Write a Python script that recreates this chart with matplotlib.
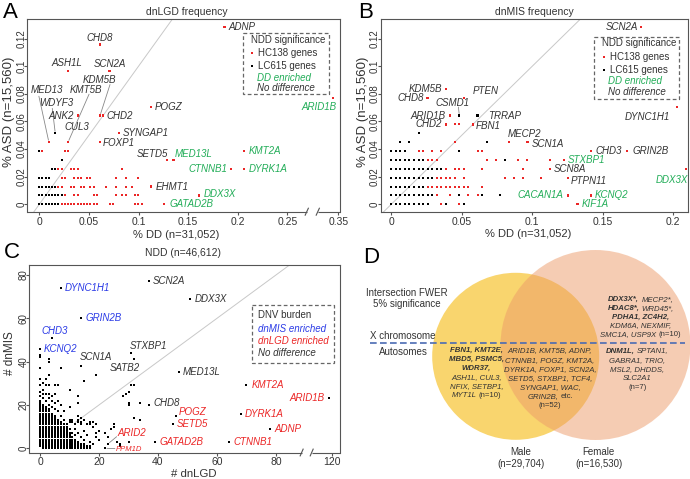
"""De novo variant frequency panels (dnLGD / dnMIS / NDD burden) and sex Venn"""
import matplotlib
matplotlib.use("Agg")
import matplotlib.pyplot as plt
from matplotlib.patches import Circle, Rectangle

plt.rcParams["font.family"] = ["Liberation Sans", "DejaVu Sans"]

FIG_W = 690
FIG_H = 479
PT = 0.72  # points per pixel at 100 dpi

RED = "#EB2626"
GREEN = "#22AD58"
BLUE = "#2B3BE6"
TEXT = "#333333"
FRAME = "#555555"
DIAG = "#C8C8C8"
DOT_SIZE = 2.6

N_ASD = 15560
N_DD = 31052

# ---------------- panel A : dnLGD frequency ----------------
# unlabeled genes: DD carrier counts, one list per ASD carrier count (0, 1, 2, ...)
a_red_rows = [
    [7, 8, 9, 10, 11, 12, 13, 14, 15, 16, 17, 18, 22, 23, 30, 31, 32],
    [8, 11, 12, 17, 18, 24, 26, 27, 30, 31],
    [6, 7, 10, 11, 13, 14, 16, 17, 21, 24, 27, 29],
    [7, 8, 11, 12, 13, 15, 16, 24, 27, 31],
    [6, 7, 10, 11, 12, 26],
    [],
    [1, 8, 9],
]
a_black_rows = [
    [0, 1, 2, 3, 4, 5, 6],
    [0, 1, 2, 3, 4, 5, 6, 7],
    [0, 1, 2, 3, 4, 5, 6],
    [0, 1, 2, 3, 12],
    [4, 5],
    [7],
    [0],
]
a_genes = ["ADNP", "CHD8", "ASH1L", "SCN2A", "KDM5B", "CHD2", "ANK2", "MED13",
           "WDYF3", "CUL3", "KMT5B", "POGZ", "SYNGAP1", "FOXP1", "SETD5",
           "MED13L", "KMT2A", "CTNNB1", "DYRK1A", "EHMT1", "DDX3X", "GATAD2B",
           "ARID1B"]
a_gene_dd = [58, 19, 9, 22, 19, 20, 12, 3, 5, 9, 9, 35, 25, 19, 40, 42, 64,
             60, 64, 35, 50, 39, 107]
a_gene_asd = [20, 18, 15, 15, 10, 10, 10, 7, 8, 7, 7, 11, 8, 7, 5, 5, 6, 4, 4,
              2, 1, 0, 12]
a_lc_genes = ["WDYF3"]
a_dd_enriched = ["ARID1B", "MED13L", "KMT2A", "CTNNB1", "DYRK1A", "DDX3X",
                 "GATAD2B"]

# ---------------- panel B : dnMIS frequency ----------------
b_red_rows = [
    [11, 15],
    [10, 13, 17, 19],
    [8, 9, 10, 11, 12, 13, 14, 15, 16, 17, 20],
    [10, 11, 12, 13, 14, 16, 25, 27, 29, 33],
    [12, 14, 15, 16, 20, 29],
    [8, 9, 10, 21, 23, 28, 30, 35],
    [6, 7, 9, 11, 19, 20],
    [14],
    [],
    [14, 15],
]
b_black_rows = [
    [0, 1, 2, 3, 4, 5, 6, 7, 8, 12, 16],
    [0, 1, 2, 3, 4, 5, 6, 7, 8, 9, 15, 20, 24],
    [0, 1, 2, 3, 4, 5, 6, 7],
    [0, 1, 2, 3, 4, 5, 6, 7, 8, 9],
    [0, 1, 2, 3, 4, 5, 6, 7, 8, 9, 10, 11],
    [0, 1, 2, 3, 4, 5, 6, 7, 25],
    [0, 1, 2, 3, 15],
    [2, 4, 21],
    [6],
]
b_genes = ["SCN2A", "KDM5B", "CHD8", "PTEN", "CSMD1", "ARID1B", "TRRAP",
           "CHD2", "FBN1", "MECP2", "SCN1A", "DYNC1H1", "CHD3", "GRIN2B",
           "STXBP1", "SCN8A", "DDX3X", "PTPN11", "CACAN1A", "KCNQ2", "KIF1A"]
b_gene_dd = [55, 12, 8, 16, 15, 13, 19, 12, 18, 26, 30, 63, 44, 52, 38, 35,
             65, 39, 39, 44, 41]
b_gene_asd = [20, 13, 12, 12, 10, 10, 10, 9, 9, 7, 7, 11, 6, 6, 5, 4, 4, 3,
              1, 1, 0]
b_lc_genes = ["CSMD1", "TRRAP"]
b_dd_enriched = ["STXBP1", "DDX3X", "CACAN1A", "KCNQ2", "KIF1A"]

# ---------------- panel C : NDD burden counts ----------------
# dense block: highest dnMIS count filled in each dnLGD column 0..17
c_column_top = [22, 20, 19, 18, 16, 15, 13, 12, 11, 9, 7, 5, 4, 3, 2, 2, 1, 1]
c_scatter = [
    (0, 43), (0, 42), (0, 37), (0, 32), (0, 29), (0, 26), (0, 24),
    (1, 30), (1, 27), (1, 25), (1, 23), (2, 32), (2, 29), (2, 25), (2, 22),
    (3, 41), (3, 40), (3, 34), (3, 29), (3, 25), (3, 23), (3, 20),
    (4, 24), (4, 22), (4, 19), (5, 29), (5, 25), (5, 21), (5, 18),
    (6, 29), (6, 22), (6, 17), (7, 37), (7, 20), (7, 15), (8, 17), (8, 13),
    (9, 11), (9, 10), (10, 27), (10, 19), (10, 13), (10, 12), (10, 9),
    (11, 13), (11, 12), (11, 7), (12, 11), (12, 9), (12, 6),
    (13, 24), (13, 21), (13, 15), (13, 13), (13, 12), (13, 7),
    (14, 14), (14, 12), (14, 11), (14, 5), (15, 31), (15, 13), (15, 8),
    (15, 4), (16, 11), (16, 6), (17, 12), (17, 11), (17, 3),
    (18, 12), (18, 10), (18, 2), (19, 34), (19, 11), (19, 7), (19, 5),
    (20, 4), (20, 8), (22, 7), (23, 5), (24, 9), (25, 11), (25, 10),
    (26, 3), (27, 2), (27, 1), (28, 24), (29, 25), (30, 26), (31, 29),
    (30, 21), (30, 20), (32, 29), (32, 14), (34, 13), (34, 21), (30, 3),
]
c_genes = ["SCN2A", "DDX3X", "DYNC1H1", "GRIN2B", "CHD3", "KCNQ2", "STXBP1",
           "SATB2", "SCN1A", "MED13L", "KMT2A", "ARID1B", "CHD8", "POGZ",
           "DYRK1A", "SETD5", "ADNP", "ARID2", "PPM1D", "GATAD2B", "CTNNB1"]
c_gene_lgd = [37, 51, 7, 14, 4, 0, 31, 32, 14, 47, 70, 119, 37, 46, 68, 45,
              78, 23, 22, 39, 64]
c_gene_mis = [77, 69, 74, 60, 51, 46, 44, 41, 38, 35, 29, 23, 20, 15, 16, 11,
              9, 2, 0, 3, 3]
c_mis_enriched = ["DYNC1H1", "GRIN2B", "CHD3", "KCNQ2"]
c_lgd_enriched = ["KMT2A", "ARID1B", "POGZ", "DYRK1A", "SETD5", "ADNP",
                  "ARID2", "PPM1D", "GATAD2B", "CTNNB1"]

# ---------------- panel D : Venn of sex-specific FWER genes ----------------
d_male_lines = [
    [("FBN1, KMT2E,", "bold")],
    [("MBD5, PSMC5,", "bold")],
    [("WDR37,", "bold")],
    [("ASH1L, CUL3,", "it")],
    [("NFIX, SETBP1,", "it")],
    [("MYT1L", "it"), ("(n=10)", "plain")],
]
d_shared_lines = [
    [("ARID1B, KMT5B, ADNP,", "it")],
    [("CTNNB1, POGZ, KMT2A,", "it")],
    [("DYRK1A, FOXP1, SCN2A,", "it")],
    [("SETD5, STXBP1, TCF4,", "it")],
    [("SYNGAP1, WAC,", "it")],
    [("GRIN2B,", "it"), ("etc.", "plain")],
    [("(n=52)", "plain")],
]
d_female_x_lines = [
    [("DDX3X*,", "bold"), ("MECP2*,", "it")],
    [("HDAC8*,", "bold"), ("WRD45*,", "it")],
    [("PDHA1, ZC4H2,", "bold")],
    [("KDM6A, NEXMIF,", "it")],
    [("SMC1A, USP9X", "it"), ("(n=10)", "plain")],
]
d_female_auto_lines = [
    [("DNM1L,", "bold"), ("SPTAN1,", "it")],
    [("GABRA1, TRIO,", "it")],
    [("MSL2, DHDDS,", "it")],
    [("SLC2A1", "it")],
    [("(n=7)", "plain")],
]
d_male_n = 29704
d_female_n = 16530

# label placement (pixels: dx right, dy up, alignment) and leader starts
a_label_pos = {
    "ADNP": (4, 0, "left"), "CHD8": (0, 7, "center"),
    "ASH1L": (-1.5, 8, "center"), "SCN2A": (0, 7, "center"),
    "KDM5B": (-1, 36, "center"), "KMT5B": (18, 52.5, "center"),
    "CHD2": (3.5, 0, "left"), "ANK2": (-4, 0, "right"),
    "MED13": (-2, 52, "center"), "WDYF3": (0.5, 30, "center"),
    "CUL3": (8.7, 15, "center"), "POGZ": (4, 0, "left"),
    "SYNGAP1": (4, 0, "left"), "FOXP1": (3, -1, "left"),
    "SETD5": (1, 6, "right"), "MED13L": (1, 6, "left"),
    "KMT2A": (5, 0, "left"), "CTNNB1": (-4, 0, "right"),
    "DYRK1A": (5, 0, "left"), "EHMT1": (5, 0, "left"),
    "DDX3X": (5, 1, "left"), "GATAD2B": (6, 0, "left"),
    "ARID1B": (3.5, -9.6, "right"),
}
a_leaders = {"KDM5B": (10, 31), "KMT5B": (21, 48), "MED13": (-10, 46),
             "WDYF3": (-3, 25)}
b_label_pos = {
    "SCN2A": (-3, 0, "right"), "KDM5B": (-4, 0, "right"),
    "CHD8": (-4, 0, "right"), "PTEN": (9, 7, "left"),
    "CSMD1": (-7, 12.7, "center"), "ARID1B": (-4.5, 0, "right"),
    "TRRAP": (10.7, 0, "left"), "CHD2": (-4, 0, "right"),
    "FBN1": (2.5, -2, "left"), "MECP2": (15, 8.4, "center"),
    "SCN1A": (4, -1.5, "left"), "DYNC1H1": (-7.4, -10, "right"),
    "CHD3": (4, 0, "left"), "GRIN2B": (5, 0, "left"),
    "STXBP1": (4, 0, "left"), "SCN8A": (3.5, 0, "left"),
    "DDX3X": (2, -10.7, "right"), "PTPN11": (2.5, -3.3, "left"),
    "CACAN1A": (-5, 0, "right"), "KCNQ2": (4, 0, "left"),
    "KIF1A": (4, 0, "left"),
}
b_leaders = {"CSMD1": (-1, 8.5)}
c_label_pos = {
    "SCN2A": (4, 0, "left"), "DDX3X": (4, 0, "left"),
    "DYNC1H1": (4, 0, "left"), "GRIN2B": (4, 0, "left"),
    "CHD3": (3, 7, "center"), "KCNQ2": (4, 0, "left"),
    "STXBP1": (-1.5, 7, "left"), "SATB2": (5.6, -8.2, "right"),
    "SCN1A": (-2, 8.7, "left"), "MED13L": (4, 0, "left"),
    "KMT2A": (5, 0, "left"), "ARID1B": (-4, 0, "right"),
    "CHD8": (4, 1.7, "left"), "POGZ": (3, 4, "left"),
    "DYRK1A": (4, 0, "left"), "SETD5": (4, 0, "left"),
    "ADNP": (4, 0, "left"), "ARID2": (9.4, 10.7, "left"),
    "PPM1D": (10.8, -1.0, "left"), "GATAD2B": (4, 0, "left"),
    "CTNNB1": (5, 0, "left"),
}
c_leaders = {"ARID2": (8.8, 7.3), "PPM1D": (10, -0.3)}

A_SHIFT = 0.0485   # compressed x range beyond the axis break, panel A
C_SHIFT = 21.0     # same for panel C


def px_rect(left, top, right, bottom):
    """axes rectangle in figure fractions from pixel box"""
    return [left / FIG_W, 1 - bottom / FIG_H,
            (right - left) / FIG_W, (bottom - top) / FIG_H]


def style_axes(ax, xpad=1.5):
    for sp in ax.spines.values():
        sp.set_color(FRAME)
        sp.set_linewidth(0.8)
    ax.tick_params(direction="out", length=2.5, width=0.8, color=FRAME,
                   labelsize=7.5, labelcolor=TEXT)
    ax.tick_params(axis="x", pad=xpad)
    ax.tick_params(axis="y", pad=-2, labelsize=7)
    plt.setp(ax.get_yticklabels(), rotation=90, va="center")


def draw_x_break(ax, b0, b1, half_w):
    x_lo, x_hi = ax.get_xlim()
    ax.spines["bottom"].set_visible(False)
    tr = ax.get_xaxis_transform()
    ax.plot([x_lo, b0], [0, 0], transform=tr, color=FRAME, lw=0.8,
            clip_on=False, solid_capstyle="butt")
    ax.plot([b1, x_hi], [0, 0], transform=tr, color=FRAME, lw=0.8,
            clip_on=False, solid_capstyle="butt")
    for b in (b0, b1):
        ax.plot([b - half_w, b + half_w], [-0.018, 0.018], transform=tr,
                color=FRAME, lw=0.8, clip_on=False)


def label_genes(ax, names, xs, ys, layout, leaders, colors, size=7):
    for name, x, y, c in zip(names, xs, ys, colors):
        dx, dy, ha = layout[name]
        fs = 5.5 if name == "PPM1D" else size
        ax.annotate(name, (x, y), xytext=(dx * PT, dy * PT),
                    textcoords="offset points", ha=ha, va="center",
                    style="italic", size=fs, color=c, zorder=6,
                    annotation_clip=False)
        if name in leaders:
            sx, sy = leaders[name]
            ax.annotate("", (x, y), xytext=(sx * PT, sy * PT),
                        textcoords="offset points", zorder=4,
                        arrowprops=dict(arrowstyle="-", color="#888888",
                                        lw=0.6, shrinkA=0, shrinkB=1.5))


def rows_to_points(rows):
    xs, ys = [], []
    for k, row in enumerate(rows):
        for c in row:
            xs.append(c)
            ys.append(k)
    return xs, ys


def plot_frequency(ax, red_rows, black_rows, genes, gene_dd, gene_asd,
                   lc_genes, dd_enriched, layout, leaders, xmap):
    rx, ry = rows_to_points(red_rows)
    kx, ky = rows_to_points(black_rows)
    pct_dd = lambda c: xmap(100.0 * c / N_DD)
    pct_asd = lambda c: 100.0 * c / N_ASD
    ax.plot([-0.05, 0.2], [-0.05, 0.2], color=DIAG, lw=0.7, zorder=1)
    ax.scatter([pct_dd(c) for c in kx], [pct_asd(c) for c in ky],
               s=DOT_SIZE, marker="s", c="black", lw=0, zorder=3)
    ax.scatter([pct_dd(c) for c in rx], [pct_asd(c) for c in ry],
               s=DOT_SIZE, marker="s", c=RED, lw=0, zorder=3)
    gx = [pct_dd(c) for c in gene_dd]
    gy = [pct_asd(c) for c in gene_asd]
    dot_c = ["black" if g in lc_genes else RED for g in genes]
    ax.scatter(gx, gy, s=DOT_SIZE, marker="s", c=dot_c, lw=0, zorder=3)
    txt_c = [GREEN if g in dd_enriched else TEXT for g in genes]
    label_genes(ax, genes, gx, gy, layout, leaders, txt_c)


def a_xmap(p):
    return p - A_SHIFT if p > 0.28 else p


def c_xmap(v):
    return v - C_SHIFT if v > 90 else v


def plot_panel_a(fig):
    ax = fig.add_axes(px_rect(27.3, 19.3, 340, 211.7))
    ax.set_xlim(-0.0121, 0.3031)
    ax.set_ylim(-0.00536, 0.134)
    plot_frequency(ax, a_red_rows, a_black_rows, a_genes, a_gene_dd,
                   a_gene_asd, a_lc_genes, a_dd_enriched, a_label_pos,
                   a_leaders, a_xmap)
    ax.set_xticks([0, 0.05, 0.1, 0.15, 0.2, 0.25, a_xmap(0.35)])
    ax.set_xticklabels(["0", "0.05", "0.1", "0.15", "0.2", "0.25", "0.35"])
    ax.set_yticks([0, 0.02, 0.04, 0.06, 0.08, 0.1, 0.12])
    ax.set_yticklabels(["0", "0.02", "0.04", "0.06", "0.08", "0.1", "0.12"])
    style_axes(ax)
    draw_x_break(ax, 0.2696, 0.2807, 0.0016)
    return ax


def plot_panel_b(fig):
    ax = fig.add_axes(px_rect(380.7, 19.3, 688, 211.7))
    ax.set_xlim(-0.0075, 0.2105)
    ax.set_ylim(-0.00536, 0.134)
    plot_frequency(ax, b_red_rows, b_black_rows, b_genes, b_gene_dd,
                   b_gene_asd, b_lc_genes, b_dd_enriched, b_label_pos,
                   b_leaders, lambda p: p)
    ax.set_xticks([0, 0.05, 0.1, 0.15, 0.2])
    ax.set_xticklabels(["0", "0.05", "0.1", "0.15", "0.2"])
    ax.set_yticks([0, 0.02, 0.04, 0.06, 0.08, 0.1, 0.12])
    ax.set_yticklabels(["0", "0.02", "0.04", "0.06", "0.08", "0.1", "0.12"])
    style_axes(ax)
    return ax


def plot_panel_c(fig):
    ax = fig.add_axes(px_rect(29.3, 265, 340, 452.5))
    ax.set_xlim(-3.63, 101.7)
    ax.set_ylim(-1.94, 84.6)
    ax.plot([12, 100], [12, 100], color=DIAG, lw=0.7, zorder=1)
    bx, by = [], []
    for x, top in enumerate(c_column_top):
        for y in range(1 if x == 0 else 0, top + 1):
            bx.append(x)
            by.append(y)
    bx += [p[0] for p in c_scatter]
    by += [p[1] for p in c_scatter]
    ax.scatter(bx, by, s=DOT_SIZE, marker="s", c="black", lw=0, zorder=3)
    gx = [c_xmap(v) for v in c_gene_lgd]
    ax.scatter(gx, c_gene_mis, s=DOT_SIZE, marker="s", c="black", lw=0,
               zorder=3)
    colors = []
    for g in c_genes:
        if g in c_mis_enriched:
            colors.append(BLUE)
        elif g in c_lgd_enriched:
            colors.append(RED)
        else:
            colors.append(TEXT)
    label_genes(ax, c_genes, gx, c_gene_mis, c_label_pos, c_leaders, colors)
    ax.set_xticks([0, 20, 40, 60, 80, c_xmap(120)])
    ax.set_xticklabels(["0", "20", "40", "60", "80", "120"])
    ax.set_yticks([0, 20, 40, 60, 80])
    ax.set_yticklabels(["0", "20", "40", "60", "80"])
    style_axes(ax, xpad=0.5)
    draw_x_break(ax, 88.7, 92.1, 0.5)
    return ax


def rich_line(ov, renderer, xc, y, parts, size=5.6):
    """centred line made of italic / bold-italic / plain pieces"""
    space = 0.278 * size / 72 * 100
    items = []
    for text, kind in parts:
        weight = "bold" if kind == "bold" else "normal"
        style = "normal" if kind == "plain" else "italic"
        items.append(ov.text(0, y, text, size=size, weight=weight,
                             style=style, color=TEXT, ha="left",
                             va="center"))
    widths = [t.get_window_extent(renderer).width for t in items]
    x = xc - (sum(widths) + space * (len(items) - 1)) / 2
    for t, w in zip(items, widths):
        t.set_x(x)
        x += w + space


def text_block(ov, renderer, xc, y0, lines, step=9.1):
    for i, parts in enumerate(lines):
        rich_line(ov, renderer, xc, y0 + i * step, parts)


def legend_box(ov, x0, y0, x1, y1):
    ov.add_patch(Rectangle((x0, y0), x1 - x0, y1 - y0, fill=False,
                           ec="#666666", lw=0.9, ls=(0, (3, 2)), zorder=7))


def draw_overlay(fig):
    ov = fig.add_axes([0, 0, 1, 1], zorder=10)
    ov.set_xlim(0, FIG_W)
    ov.set_ylim(FIG_H, 0)
    ov.axis("off")
    ov.patch.set_alpha(0)
    renderer = fig.canvas.get_renderer()

    # panel letters, titles, axis labels
    for s, x, y in [("A", 10.5, 12.5), ("B", 365.5, 12.5),
                    ("C", 11.5, 252.5), ("D", 371, 257.5)]:
        ov.text(x, y, s, size=16, ha="center", va="center", color="black")
    ov.text(186.7, 11.7, "dnLGD frequency", size=7.5, ha="center",
            va="center", color=TEXT)
    ov.text(534, 11.7, "dnMIS frequency", size=7.5, ha="center",
            va="center", color=TEXT)
    ov.text(183.3, 253.3, "NDD (n=46,612)", size=7.5, ha="center",
            va="center", color=TEXT)
    ov.text(176.3, 235, "% DD (n=31,052)", size=8, ha="center",
            va="center", color=TEXT)
    ov.text(528.3, 234, "% DD (n=31,052)", size=8, ha="center",
            va="center", color=TEXT)
    ov.text(194, 474.3, "# dnLGD", size=8.2, ha="center", va="center",
            color=TEXT)
    ov.text(9.5, 112, "% ASD (n=15,560)", size=9.5, ha="center",
            va="center", rotation=90, color=TEXT)
    ov.text(363, 112, "% ASD (n=15,560)", size=9.5, ha="center",
            va="center", rotation=90, color=TEXT)
    ov.text(10.5, 353, "# dnMIS", size=8.5, ha="center", va="center",
            rotation=90, color=TEXT)

    # legends A and B
    for (x0, y0, x1, y1), ys in [((242.7, 33.3, 329.3, 94.3),
                                  (40, 53.3, 66, 77.7, 88.3)),
                                 ((594.3, 36.7, 679.3, 99.3),
                                  (43.3, 57.3, 70, 81, 91.7))]:
        legend_box(ov, x0, y0, x1, y1)
        ov.text(x0 + 8, ys[0], "NDD significance", size=7, va="center",
                color=TEXT)
        ov.scatter([x0 + 9.5, x0 + 9.5], [ys[1], ys[2]], s=DOT_SIZE,
                   marker="s", c=[RED, "black"], lw=0)
        ov.text(x0 + 15.5, ys[1], "HC138 genes", size=7, va="center",
                color=TEXT)
        ov.text(x0 + 15.5, ys[2], "LC615 genes", size=7, va="center",
                color=TEXT)
        ov.text(x0 + 14, ys[3], "DD enriched", size=7, va="center",
                style="italic", color=GREEN)
        ov.text(x0 + 14, ys[4], "No difference", size=7, va="center",
                style="italic", color=TEXT)

    # legend C
    legend_box(ov, 251.7, 305, 334.3, 363.3)
    for s, y, c, st in [("DNV burden", 315, TEXT, "normal"),
                        ("dnMIS enriched", 329.3, BLUE, "italic"),
                        ("dnLGD enriched", 341, RED, "italic"),
                        ("No difference", 353.3, TEXT, "italic")]:
        ov.text(258.3, y, s, size=7, va="center", style=st, color=c)

    # panel D venn
    ov.add_patch(Circle((515.7, 356.3), 83.5, fc="#F9D56E", ec="none",
                        zorder=1))
    ov.add_patch(Circle((595.5, 345), 95, fc="#ED9B69", ec="none",
                        alpha=0.5, zorder=2))
    ov.plot([370, 685], [342.7, 342.7], color="#4A6BB3", lw=1.2,
            ls=(0, (4, 2)), zorder=3)
    ov.text(407, 292.7, "Intersection FWER", size=7, ha="center",
            va="center", color=TEXT)
    ov.text(407, 304, "5% significance", size=7, ha="center", va="center",
            color=TEXT)
    ov.text(403, 335.7, "X chromosome", size=7, ha="center", va="center",
            color=TEXT)
    ov.text(403, 351.7, "Autosomes", size=7, ha="center", va="center",
            color=TEXT)
    text_block(ov, renderer, 476.3, 350, d_male_lines)
    text_block(ov, renderer, 550, 351, d_shared_lines)
    text_block(ov, renderer, 640.7, 299.3, d_female_x_lines, step=8.85)
    text_block(ov, renderer, 637.3, 351, d_female_auto_lines)
    ov.text(520.7, 451.7, "Male", size=7, ha="center", va="center",
            color=TEXT)
    ov.text(520.7, 464, f"(n={d_male_n:,})", size=7, ha="center",
            va="center", color=TEXT)
    ov.text(598.5, 451.7, "Female", size=7, ha="center", va="center",
            color=TEXT)
    ov.text(598.5, 464, f"(n={d_female_n:,})", size=7, ha="center",
            va="center", color=TEXT)


def make_figure():
    fig = plt.figure(figsize=(FIG_W / 100, FIG_H / 100), dpi=100)
    plot_panel_a(fig)
    plot_panel_b(fig)
    plot_panel_c(fig)
    draw_overlay(fig)
    fig.savefig("out.png", dpi=100)


if __name__ == "__main__":
    make_figure()
